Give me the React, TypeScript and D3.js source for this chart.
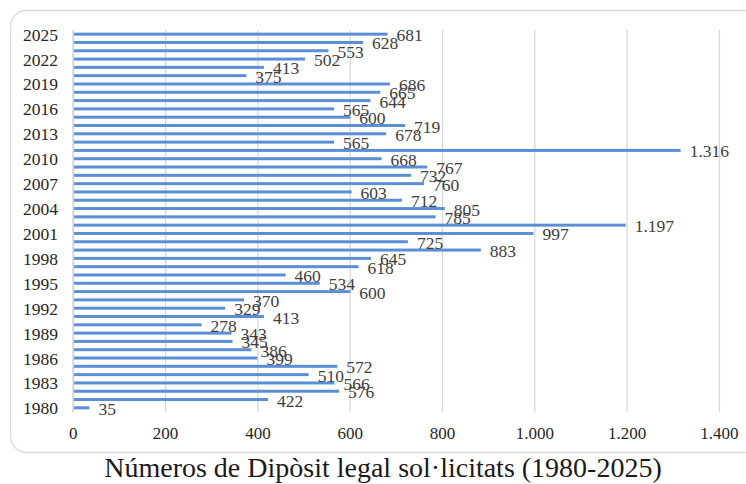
import React from "react";
import * as d3 from "d3";

const years: number[] = [
  1980, 1981, 1982, 1983, 1984, 1985, 1986, 1987, 1988, 1989,
  1990, 1991, 1992, 1993, 1994, 1995, 1996, 1997, 1998, 1999,
  2000, 2001, 2002, 2003, 2004, 2005, 2006, 2007, 2008, 2009,
  2010, 2011, 2012, 2013, 2014, 2015, 2016, 2017, 2018, 2019,
  2020, 2021, 2022, 2023, 2024, 2025,
];
const values: number[] = [
  35, 422, 576, 566, 510, 572, 399, 386, 345, 343,
  278, 413, 329, 370, 600, 534, 460, 618, 645, 883,
  725, 997, 1197, 785, 805, 712, 603, 760, 732, 767,
  668, 1316, 565, 678, 719, 600, 565, 644, 665, 686,
  375, 413, 502, 553, 628, 681,
];
const xTicks: number[] = [0, 200, 400, 600, 800, 1000, 1200, 1400];
const yTickYears: number[] = [1980, 1983, 1986, 1989, 1992, 1995, 1998, 2001, 2004, 2007, 2010, 2013, 2016, 2019, 2022, 2025];
const title = "Números de Dipòsit legal sol·licitats (1980-2025)";

const W = 746;
const H = 484;
const FONT = "'Liberation Serif', serif";

const locale = d3.formatLocale({ decimal: ",", thousands: ".", grouping: [3], currency: ["", ""] });
const fmt = locale.format(",d");

export default function App() {
  const x = d3.scaleLinear().domain([0, 1400]).range([73.3, 719.4]);
  const y = d3
    .scaleBand<number>()
    .domain([...years].reverse())
    .range([30, 412])
    .paddingInner(0.64)
    .paddingOuter(0.32);
  const bw = y.bandwidth();
  const data = years.map((yr, i) => ({ yr, v: values[i] }));

  return (
    <svg
      width={W}
      height={H}
      style={{ position: "absolute", left: 0, top: 0, display: "block", background: "#fff" }}
    >
      <rect x={10.5} y={10.5} width={750} height={442} rx={16} ry={16} fill="#fff" stroke="#d9d9d9" strokeWidth={1.3} />
      {xTicks.map((t) => (
        <line key={"g" + t} x1={x(t)} x2={x(t)} y1={30} y2={412} stroke="#d9d9d9" strokeWidth={1.3} />
      ))}
      <line x1={x(0)} x2={x(0)} y1={30} y2={412} stroke="#cfcfcf" strokeWidth={1.5} />
      {data.map((d) => (
        <rect key={"b" + d.yr} x={x(0) + 0.8} y={y(d.yr)!} width={x(d.v) - x(0) - 0.8} height={bw} fill="#5a8fd8" />
      ))}
      {data.map((d) => (
        <text
          key={"l" + d.yr}
          x={x(d.v) + 9}
          y={y(d.yr)! + bw / 2 + 1}
          dominantBaseline="central"
          fontFamily={FONT}
          fontSize={17.5}
          fill="#404040"
        >
          {fmt(d.v)}
        </text>
      ))}
      {yTickYears.map((yr) => (
        <text
          key={"y" + yr}
          x={58}
          y={y(yr)! + bw / 2 + 0.5}
          textAnchor="end"
          dominantBaseline="central"
          fontFamily={FONT}
          fontSize={17.5}
          fill="#262626"
        >
          {yr}
        </text>
      ))}
      {xTicks.map((t) => (
        <text
          key={"x" + t}
          x={x(t)}
          y={433}
          textAnchor="middle"
          dominantBaseline="central"
          fontFamily={FONT}
          fontSize={17}
          fill="#262626"
        >
          {fmt(t)}
        </text>
      ))}
      <text x={383} y={477} textAnchor="middle" fontFamily={FONT} fontSize={28} fill="#1a1a1a">
        {title}
      </text>
    </svg>
  );
}
